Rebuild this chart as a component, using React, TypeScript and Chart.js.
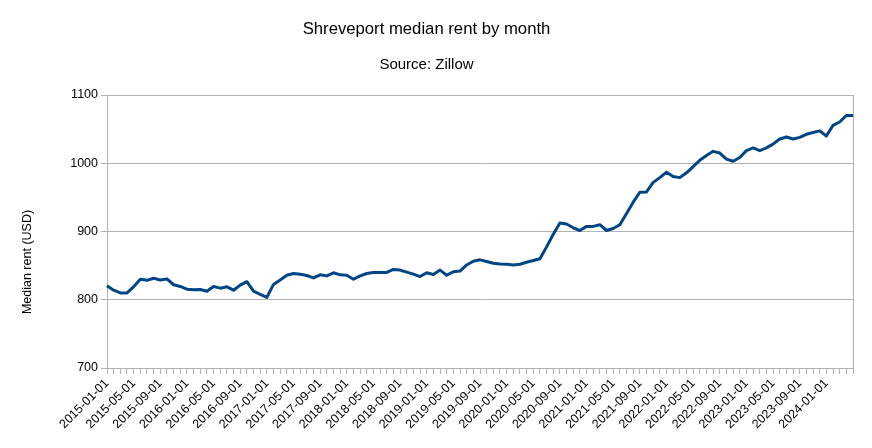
import { useEffect, useRef } from 'react';
import { Chart, registerables } from 'chart.js';

Chart.register(...registerables);

const FONT = '"Liberation Sans", Arial, sans-serif';

const months: string[] = [
  '2015-01-01', '2015-02-01', '2015-03-01', '2015-04-01', '2015-05-01', '2015-06-01', '2015-07-01', '2015-08-01', '2015-09-01', '2015-10-01', '2015-11-01', '2015-12-01',
  '2016-01-01', '2016-02-01', '2016-03-01', '2016-04-01', '2016-05-01', '2016-06-01', '2016-07-01', '2016-08-01', '2016-09-01', '2016-10-01', '2016-11-01', '2016-12-01',
  '2017-01-01', '2017-02-01', '2017-03-01', '2017-04-01', '2017-05-01', '2017-06-01', '2017-07-01', '2017-08-01', '2017-09-01', '2017-10-01', '2017-11-01', '2017-12-01',
  '2018-01-01', '2018-02-01', '2018-03-01', '2018-04-01', '2018-05-01', '2018-06-01', '2018-07-01', '2018-08-01', '2018-09-01', '2018-10-01', '2018-11-01', '2018-12-01',
  '2019-01-01', '2019-02-01', '2019-03-01', '2019-04-01', '2019-05-01', '2019-06-01', '2019-07-01', '2019-08-01', '2019-09-01', '2019-10-01', '2019-11-01', '2019-12-01',
  '2020-01-01', '2020-02-01', '2020-03-01', '2020-04-01', '2020-05-01', '2020-06-01', '2020-07-01', '2020-08-01', '2020-09-01', '2020-10-01', '2020-11-01', '2020-12-01',
  '2021-01-01', '2021-02-01', '2021-03-01', '2021-04-01', '2021-05-01', '2021-06-01', '2021-07-01', '2021-08-01', '2021-09-01', '2021-10-01', '2021-11-01', '2021-12-01',
  '2022-01-01', '2022-02-01', '2022-03-01', '2022-04-01', '2022-05-01', '2022-06-01', '2022-07-01', '2022-08-01', '2022-09-01', '2022-10-01', '2022-11-01', '2022-12-01',
  '2023-01-01', '2023-02-01', '2023-03-01', '2023-04-01', '2023-05-01', '2023-06-01', '2023-07-01', '2023-08-01', '2023-09-01', '2023-10-01', '2023-11-01', '2023-12-01',
  '2024-01-01', '2024-02-01', '2024-03-01', '2024-04-01', '2024-05-01',
];

const medianRent: number[] = [
  820.5, 814, 810, 810, 819, 830, 828.5, 831.5, 829, 830.5, 822, 819.5,
  815.5, 814.5, 815, 812.5, 819.5, 817, 819, 814, 821.5, 826.5, 812.5, 808,
  803.5, 822.5, 829, 836, 838.5, 837.5, 835.5, 832, 836.5, 835, 839.5, 836.5,
  836, 830, 835, 838.5, 840, 840, 840, 844.5, 843.5, 840.5, 837.5, 834,
  839.5, 837, 843.5, 836, 841, 842, 851, 856.5, 858.5, 856, 853.5, 852.5,
  852, 851, 852, 855, 857.5, 860, 877.5, 896, 912.5, 911, 905.5, 901.5,
  907.5, 907.5, 910, 901.5, 904.5, 910, 926.5, 943, 957.5, 958, 972, 979,
  987, 980.5, 979, 986, 995, 1004.5, 1011.5, 1017.5, 1015, 1006, 1003, 1008.5,
  1018.5, 1022.5, 1018.5, 1022.5, 1028, 1035.5, 1038.5, 1035.5, 1038, 1042.5, 1045, 1047.5,
  1040, 1055.5, 1060.5, 1070, 1070,
];

const shownTickLabels: string[] = [
  '2015-01-01', '2015-05-01', '2015-09-01', '2016-01-01', '2016-05-01', '2016-09-01',
  '2017-01-01', '2017-05-01', '2017-09-01', '2018-01-01', '2018-05-01', '2018-09-01',
  '2019-01-01', '2019-05-01', '2019-09-01', '2020-01-01', '2020-05-01', '2020-09-01',
  '2021-01-01', '2021-05-01', '2021-09-01', '2022-01-01', '2022-05-01', '2022-09-01',
  '2023-01-01', '2023-05-01', '2023-09-01', '2024-01-01',
];

const yMin = 700;
const yMax = 1100;
const yStep = 100;

const chartTitle = 'Shreveport median rent by month';
const chartSubtitle = 'Source: Zillow';
const yAxisTitle = 'Median rent (USD)';

const GRID = '#b3b3b3';
const LINE = '#004586';

const yTitlePlugin = {
  id: 'yTitlePlugin',
  afterDraw(chart: any) {
    const ctx = chart.ctx;
    ctx.save();
    ctx.translate(28, 262);
    ctx.rotate(-Math.PI / 2);
    ctx.font = `12.5px ${FONT}`;
    ctx.fillStyle = '#000';
    ctx.textAlign = 'center';
    ctx.textBaseline = 'middle';
    ctx.fillText(yAxisTitle, 0, 0);
    ctx.restore();
  },
};

export default function App() {
  const ref = useRef<HTMLCanvasElement | null>(null);

  useEffect(() => {
    if (!ref.current) return;
    const shown = new Set(shownTickLabels);
    const last = months.length - 1;
    const chart = new Chart(ref.current, {
      type: 'line',
      data: {
        labels: months,
        datasets: [
          {
            data: medianRent,
            borderColor: LINE,
            backgroundColor: LINE,
            borderWidth: 3,
            pointRadius: 0,
            tension: 0,
            borderJoinStyle: 'round',
            borderCapStyle: 'butt',
          },
        ],
      },
      options: {
        responsive: false,
        animation: false,
        layout: { padding: { left: 0, right: 19, top: 0, bottom: 0 } },
        plugins: {
          legend: { display: false },
          tooltip: { enabled: false },
          title: {
            display: true,
            text: chartTitle,
            color: '#000',
            font: { family: FONT, size: 16.7, weight: 'normal' },
            padding: { top: 19, bottom: 0 },
          },
          subtitle: {
            display: true,
            text: chartSubtitle,
            color: '#000',
            font: { family: FONT, size: 15, weight: 'normal' },
            padding: { top: 17, bottom: 21 },
          },
        },
        scales: {
          x: {
            type: 'category',
            offset: false,
            grid: {
              display: true,
              drawOnChartArea: true,
              color: (c: any) => (c.index === last ? GRID : 'rgba(0,0,0,0)'),
              tickColor: GRID,
              tickLength: 6,
              lineWidth: 1,
            },
            border: { display: true, color: GRID },
            ticks: {
              autoSkip: false,
              maxRotation: 45,
              minRotation: 45,
              color: '#000',
              font: { family: FONT, size: 12.5 },
              padding: 2,
              callback: (_v: any, i: number) => (shown.has(months[i]) ? months[i] : ''),
            },
            afterFit: (s: any) => {
              s.height = 80;
            },
          },
          y: {
            min: yMin,
            max: yMax,
            grid: { color: GRID, tickColor: GRID, tickLength: 6, lineWidth: 1 },
            border: { display: true, color: GRID },
            ticks: {
              stepSize: yStep,
              color: '#000',
              font: { family: FONT, size: 12.5 },
              padding: 3,
              callback: (v: any) => String(v),
            },
            afterFit: (s: any) => {
              s.width = 107;
            },
          },
        },
      },
      plugins: [yTitlePlugin],
    } as any);
    return () => chart.destroy();
  }, []);

  return (
    <div style={{ position: 'fixed', left: 0, top: 0, width: 872, height: 448, background: '#fff' }}>
      <canvas ref={ref} width={872} height={448} style={{ display: 'block' }} />
    </div>
  );
}
